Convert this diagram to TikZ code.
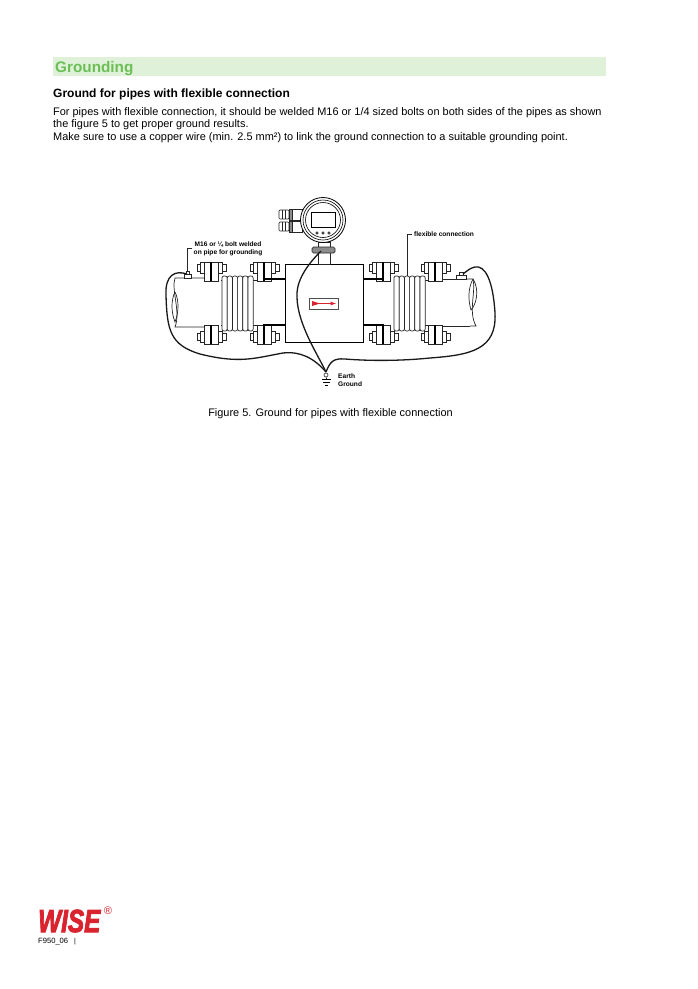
\documentclass[tikz,border=0pt]{standalone}
\usepackage{fontspec}
\setmainfont{Liberation Sans}
\newfontfamily\logofont{Liberation Sans}[UprightFont=* Bold Italic, FakeBold=3]
\definecolor{bandgreen}{HTML}{DFF1D8}
\definecolor{headgreen}{HTML}{6CBE56}
\definecolor{wisered}{HTML}{D9232E}
\newcommand{\flange}[4]{%
\draw[part,fill=white] (#1-7,#2) rectangle (#1+7,#3);
\draw[line width=1.4pt] (#1,#2) -- (#1,#3);
\draw[part,fill=white] (#1-14,#4-3.5) rectangle (#1-7,#4+3.5);
\draw[part,fill=white] (#1-11,#4-5.5) rectangle (#1-7,#4+5.5);
\draw[part,fill=white] (#1+7,#4-5.5) rectangle (#1+11,#4+5.5);
\draw[part,fill=white] (#1+11,#4-3.5) rectangle (#1+15,#4+3.5);
}
\newcommand{\bellows}[1]{%
\foreach \n in {0,...,5} {
\draw[part,fill=white,rounded corners=2pt] (#1+\n*5.2,276) rectangle (#1+\n*5.2+5.2,331);
}
}
\tikzset{
  part/.style = {line width=.7pt, draw=black!85},
  wire/.style = {line width=1.3pt, black!90},
  body/.style = {anchor=west, inner sep=0pt, font=\fontsize{10.95}{12}\selectfont},
  small/.style = {inner sep=0pt, font=\fontsize{6.6}{8.2}\selectfont\bfseries}
}
\begin{document}
\begin{tikzpicture}[x=1pt,y=-1pt]
\useasboundingbox (0,0) rectangle (698,989);
\fill[white] (0,0) rectangle (698,989);
\node (band) [fill=bandgreen, minimum width=553pt, minimum height=19pt, inner sep=0pt, anchor=north west] at (53,57) {};
\node (title) [anchor=west, inner sep=0pt, text=headgreen, font=\fontsize{15.3}{18}\selectfont\bfseries] at (55,68.5) {Grounding};
\node (subtitle) [anchor=west, inner sep=0pt, font=\fontsize{12}{14}\selectfont\bfseries] at (53,94) {Ground for pipes with flexible connection};
\node (line1) [body] at (53,112.5) {For pipes with flexible connection, it should be welded M16 or 1/4 sized bolts on both sides of the pipes as shown};
\node (line2) [body] at (53,125) {the figure 5 to get proper ground results.};
\node (line3) [body] at (53,138) {Make sure to use a copper wire (min. 2.5 mm²) to link the ground connection to a suitable grounding point.};

\draw[part] (210,278) -- (175,278) .. controls (171,290) and (181,312) .. (175,327) -- (210,327);
\draw[part] (175,292) .. controls (179,300) and (179,312) .. (175,322) .. controls (171,312) and (171,300) .. (175,292);
\draw[part] (221,280) -- (225,280) (221,325) -- (225,325);
\draw[part] (252,280) -- (258,280) (252,325) -- (258,325);
\draw[part] (432,280) -- (397,280) (432,325) -- (397,325);
\draw[part] (440,279) -- (461,279) (440,326) -- (470,326);
\draw[part] (461,279) -- (473,279) .. controls (476,292) and (468,312) .. (476,326) -- (470,326);
\draw[part] (473,279) .. controls (480,290) and (476,305) .. (471,310) .. controls (468,300) and (468,288) .. (473,279);
\flange{211}{262}{281}{268}
\flange{211}{325}{344}{337}
\flange{264}{262}{281}{268}
\flange{264}{325}{344}{337}
\flange{383}{262}{281}{268}
\flange{383}{325}{344}{337}
\flange{435}{262}{281}{268}
\flange{435}{325}{344}{337}
\bellows{222}
\bellows{394}
\draw[line width=1.4pt] (263,279) -- (285,279) (263,325) -- (285,325);
\draw[line width=1.4pt] (363,279) -- (384,279) (363,325) -- (384,325);

\node (meter) [draw=black, line width=.9pt, fill=white, minimum width=78pt, minimum height=78pt, inner sep=0pt, anchor=north west] at (285,264) {};
\node (flowtag) [draw=black!70, minimum width=29pt, minimum height=11pt, inner sep=0pt] at (323.5,303.5) {};
\draw[wisered, line width=.9pt, -latex] (312,303.5) -- (336,303.5);
\fill[wisered] (312,301) -- (320,303.5) -- (312,306) -- cycle;

\draw[part,fill=white] (318,240) rectangle (330,264);
\draw[part,fill=white] (318,242) rectangle (330,247);
\draw[part,fill=black!45,rounded corners=1.5pt] (312,247) rectangle (335,253);
\foreach \y in {209,221} {
\draw[part,fill=white,rounded corners=1pt] (279,\y+1) rectangle (289,\y+10);
\draw[part] (282,\y+1) -- (282,\y+10) (285,\y+1) -- (285,\y+10);
\draw[part,fill=black!45] (289,\y) rectangle (292,\y+11);
\draw[part,fill=white] (292,\y) rectangle (302,\y+11);
}
\node (dial) [draw=black, line width=.8pt, fill=white, circle, minimum size=45pt, inner sep=0pt] at (323,220) {};
\node (dialring) [draw=black, line width=.6pt, circle, minimum size=40pt, inner sep=0pt] at (323,220) {};
\node (dialinner) [draw=black, line width=.6pt, circle, minimum size=35pt, inner sep=0pt] at (323,220) {};
\node (screen) [draw=black, line width=.8pt, minimum width=24pt, minimum height=15pt, inner sep=0pt] at (323,220) {};
\foreach \x in {317,323,329} {
\draw[line width=.5pt] (\x,233) circle (1.3pt);
}

\draw[part,fill=white] (184,274) rectangle (191,278);
\draw[part,fill=white] (186,271) rectangle (189,274);
\draw[part,fill=white] (456,275) rectangle (466,279);
\draw[part,fill=white] (459,272) rectangle (463,275);

\coordinate (boltl) at (187,274);
\coordinate (boltr) at (463,274);
\coordinate (sensor) at (321,251);
\coordinate (earth) at (326,372);
\draw[wire] (boltl) .. controls (175,270) and (165,275) .. (166,295) .. controls (167,330) and (170,345) .. (200,354) .. controls (240,364) and (255,358) .. (283,353) .. controls (300,351) and (314,358) .. (earth);
\draw[wire] (earth) .. controls (330,362) and (333,358) .. (345,359) .. controls (370,361) and (400,361) .. (430,358) .. controls (470,355) and (497,350) .. (495,313) .. controls (493,280) and (485,265) .. (475,267) .. controls (470,268) and (467,271) .. (boltr);
\draw[wire] (sensor) .. controls (302,270) and (296,285) .. (297,298) .. controls (298,325) and (318,355) .. (earth);

\node (gndsym) [draw=black!85, line width=.6pt, circle, minimum size=4pt, inner sep=0pt] at (326,375) {};
\draw[line width=1pt] (322,379) -- (331,379) (323,382) -- (330,382) (325,385) -- (328,385);
\draw[part] (gndsym) -- (326.5,379);

\node (boltlabel) [small, align=center] at (228,248.5) {M16 or ¼ bolt welded\\on pipe for grounding};
\coordinate (boltknee) at (187,248);
\draw[part] (192,248) -- (boltknee) -- (187,272);
\node (flexlabel) [small, anchor=west] at (414,234.5) {flexible connection};
\draw[part] (412,234) -- (407,234) -- (407,276);
\node (earthlabel) [small, anchor=west, align=left] at (338,380) {Earth\\Ground};

\node (caption) [inner sep=0pt, font=\fontsize{10.95}{12}\selectfont] at (330.5,414) {Figure 5. Ground for pipes with flexible connection};

\node (logo) [anchor=west, inner sep=0pt, text=wisered, font=\fontsize{32}{32}\logofont] at (38,921) {\scalebox{.76}[1]{WISE}};
\node (regmark) [inner sep=0pt, text=wisered, font=\fontsize{11}{11}\selectfont] at (108,910.5) {®};
\node (docid) [anchor=west, inner sep=0pt, font=\fontsize{7.6}{9}\selectfont] at (38,942) {F950\_06};
\node (pipebar) [anchor=west, inner sep=0pt, font=\fontsize{7}{9}\selectfont] at (74,942) {|};
\end{tikzpicture}
\end{document}
